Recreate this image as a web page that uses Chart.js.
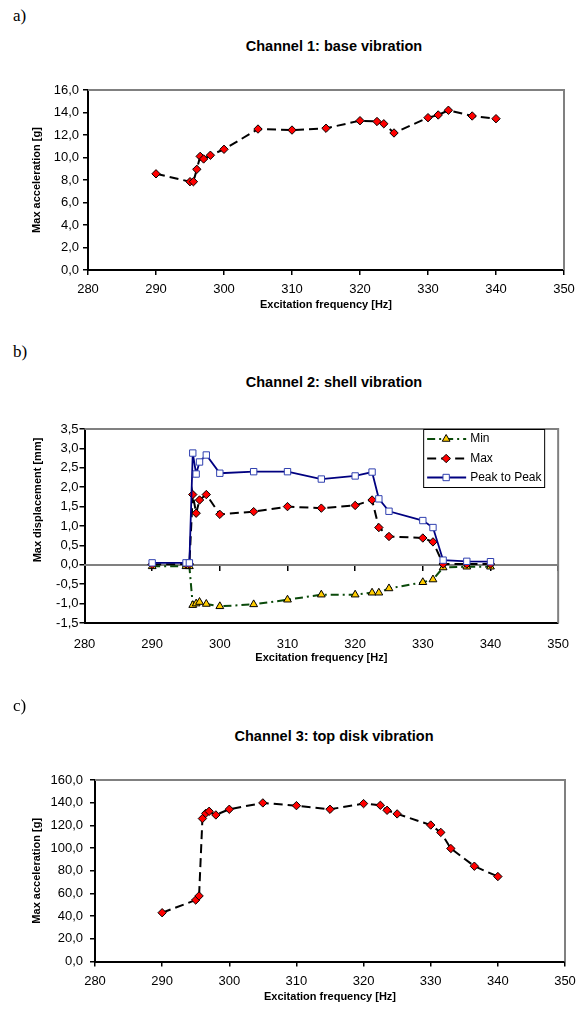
<!DOCTYPE html>
<html><head><meta charset="utf-8">
<script src="https://cdn.jsdelivr.net/npm/chart.js@4.4.1/dist/chart.umd.min.js"></script>
<style>
html,body{margin:0;padding:0;background:#fff;}
body{width:583px;height:1012px;position:relative;overflow:hidden;font-family:"Liberation Sans",Arial,sans-serif;}
.lbl{position:absolute;left:13px;font-family:"Liberation Serif","Times New Roman",serif;font-size:17px;line-height:20px;}
.ttl{position:absolute;left:184px;width:300px;text-align:center;font-weight:bold;font-size:14.5px;line-height:18px;white-space:nowrap;}
.ytl{position:absolute;width:200px;height:14px;line-height:14px;text-align:center;font-weight:bold;font-size:11px;white-space:nowrap;transform:rotate(-90deg);transform-origin:50% 50%;}
canvas{position:absolute;left:0;}
</style></head><body>
<div class="lbl" style="top:6px">a)</div>
<div class="ttl" style="top:37px">Channel 1: base vibration</div>
<canvas id="ca" width="583" height="255" style="top:60px"></canvas>
<div class="lbl" style="top:342px">b)</div>
<div class="ttl" style="top:373px">Channel 2: shell vibration</div>
<canvas id="cb" width="583" height="268" style="top:400px"></canvas>
<div class="ytl" id="ytb" style="left:-63px;top:493px"></div>
<div class="lbl" style="top:696px">c)</div>
<div class="ttl" style="top:727px">Channel 3: top disk vibration</div>
<canvas id="cc" width="583" height="257" style="top:750px"></canvas>
<script>
// ---- data ----
const freq = [290, 295, 295.5, 296, 296.5, 297, 298, 300, 305, 310, 315, 320, 322.5, 323.5, 325, 330, 331.5, 333, 336.5, 340];
const baseAcc = [8.55, 7.85, 7.85, 8.95, 10.1, 9.87, 10.2, 10.73, 12.53, 12.44, 12.6, 13.27, 13.2, 13.0, 12.18, 13.54, 13.78, 14.2, 13.69, 13.45];
const shellMin = [-0.04, -0.04, -0.04, -1.04, -1.0, -0.96, -1.01, -1.07, -1.02, -0.90, -0.77, -0.77, -0.72, -0.72, -0.61, -0.45, -0.38, -0.07, -0.05, -0.05];
const shellMax = [0.01, 0.02, 0.02, 1.81, 1.33, 1.67, 1.81, 1.30, 1.37, 1.50, 1.46, 1.53, 1.67, 0.96, 0.73, 0.69, 0.59, 0.02, 0.02, 0.02];
const shellPtP = [0.05, 0.05, 0.05, 2.88, 2.34, 2.65, 2.83, 2.36, 2.40, 2.40, 2.21, 2.29, 2.39, 1.70, 1.38, 1.14, 0.96, 0.12, 0.09, 0.08];
const topAcc = [43, 54.2, 57.8, 126, 130.6, 132.4, 129.2, 134.2, 139.8, 137.4, 134.2, 139.2, 137.7, 133.3, 130.1, 120.3, 113.8, 99.6, 84, 74.9];
const xTickValues = [280, 290, 300, 310, 320, 330, 340, 350];
const xTickLabels = ['280', '290', '300', '310', '320', '330', '340', '350'];
const yTicksA = [0, 2, 4, 6, 8, 10, 12, 14, 16];
const yLabelsA = ['0,0', '2,0', '4,0', '6,0', '8,0', '10,0', '12,0', '14,0', '16,0'];
const yTicksB = [-1.5, -1, -0.5, 0, 0.5, 1, 1.5, 2, 2.5, 3, 3.5];
const yLabelsB = ['-1,5', '-1,0', '-0,5', '0,0', '0,5', '1,0', '1,5', '2,0', '2,5', '3,0', '3,5'];
const yTicksC = [0, 20, 40, 60, 80, 100, 120, 140, 160];
const yLabelsC = ['0,0', '20,0', '40,0', '60,0', '80,0', '100,0', '120,0', '140,0', '160,0'];
const seriesNames = ['Min', 'Max', 'Peak to Peak'];
const xTitle = 'Excitation frequency [Hz]';
const yTitleB = 'Max displacement [mm]';

document.getElementById('ytb').textContent = yTitleB;

Chart.defaults.color = '#000';
Chart.defaults.font.family = '"Liberation Sans", Arial, sans-serif';

const pts = (ys) => freq.map((f, i) => ({x: f, y: ys[i]}));
const FONT_T = {size: 13};
const FONT_AX = {size: 11, weight: 'bold'};

const frame = {
  id: 'frame',
  beforeDatasetsDraw(chart) {
    const {ctx, chartArea: a} = chart;
    ctx.save();
    ctx.strokeStyle = '#808080'; ctx.lineWidth = 2;
    ctx.beginPath(); ctx.moveTo(a.left, a.top); ctx.lineTo(a.right, a.top); ctx.lineTo(a.right, a.bottom); ctx.stroke();
    ctx.restore();
  }
};

const legendBox = {
  id: 'legendBox',
  afterDraw(chart) {
    const {ctx, chartArea: a} = chart;
    const x0 = a.right - 135, x1 = a.right - 14, y0 = a.top, y1 = a.top + 58;
    ctx.save();
    ctx.fillStyle = '#fff'; ctx.fillRect(x0, y0, x1 - x0, y1 - y0);
    ctx.strokeStyle = '#000'; ctx.lineWidth = 1; ctx.strokeRect(x0 + 0.5, y0 + 0.5, x1 - x0, y1 - y0);
    const ys = [10, 29.5, 48.5];
    [2, 1, 0].forEach((idx, i) => {
      const ds = chart.data.datasets[idx];
      const y = y0 + ys[i];
      ctx.strokeStyle = ds.borderColor; ctx.lineWidth = ds.borderWidth; ctx.setLineDash(ds.borderDash || []);
      ctx.beginPath(); ctx.moveTo(x0 + 4, y); ctx.lineTo(x0 + 43, y); ctx.stroke();
      ctx.setLineDash([]);
      ctx.fillStyle = ds.pointBackgroundColor; ctx.strokeStyle = ds.pointBorderColor; ctx.lineWidth = 1;
      Chart.helpers.drawPoint(ctx, {pointStyle: ds.pointStyle, radius: ds.pointRadius, borderWidth: 1, rotation: 0}, x0 + 23, y);
      ctx.fillStyle = '#000'; ctx.font = '12px "Liberation Sans", Arial'; ctx.textBaseline = 'middle'; ctx.textAlign = 'left';
      ctx.fillText(ds.label, x0 + 47, y);
    });
    ctx.restore();
  }
};

function xScale(tickPad, withMarks) {
  return {
    type: 'linear', position: 'bottom', min: 280, max: 350,
    afterBuildTicks: s => { s.ticks = xTickValues.map(v => ({value: v})); },
    ticks: {font: FONT_T, padding: tickPad, autoSkip: false, maxRotation: 0,
      callback: v => xTickLabels[xTickValues.indexOf(v)]},
    grid: {display: withMarks, drawOnChartArea: false, drawTicks: withMarks, tickLength: 5, color: '#000', lineWidth: 1.5},
    border: {display: true, color: '#000', width: 2},
    title: {display: true, text: xTitle, font: FONT_AX, padding: {top: 0, bottom: 3}}
  };
}
function yScale(vals, labels, title, L, pad) {
  return {
    type: 'linear', min: vals[0], max: vals[vals.length - 1],
    afterBuildTicks: s => { s.ticks = vals.map(v => ({value: v})); },
    afterFit: s => { s.width = L; },
    ticks: {font: FONT_T, padding: pad, autoSkip: false, callback: v => labels[vals.indexOf(v)]},
    grid: {display: true, drawOnChartArea: false, drawTicks: true, tickLength: 5, color: '#000', lineWidth: 1.5},
    border: {display: true, color: '#000', width: 2},
    title: {display: !!title, text: title || '', font: FONT_AX, padding: {top: 30.5, bottom: 0}}
  };
}

function makeChart(id, cfg) {
  const c = document.getElementById(id);
  const H = c.height, top = cfg.canvasTop;
  const xs = cfg.x;
  xs.afterFit = s => { s.height = H - (cfg.B - top); };
  const scales = {x: xs, y: cfg.y};
  if (cfg.extraScales) Object.assign(scales, cfg.extraScales);
  return new Chart(c, {
    type: 'line',
    data: {datasets: cfg.datasets},
    options: {
      responsive: false, animation: false, devicePixelRatio: 1,
      layout: {padding: {top: cfg.T - top, right: 583 - cfg.R, left: 0, bottom: 0}},
      plugins: {legend: {display: false}, tooltip: {enabled: false}, title: {display: false}},
      scales
    },
    plugins: [frame].concat(cfg.plugins || [])
  });
}

const diamond = {pointStyle: 'rectRot', pointRadius: 4.2, pointBackgroundColor: '#FF0000', pointBorderColor: '#000', pointBorderWidth: 1};

makeChart('ca', {
  canvasTop: 60, T: 90, B: 270, R: 564,
  x: xScale(7, true),
  y: yScale(yTicksA, yLabelsA, 'Max acceleration [g]', 88, 4),
  datasets: [Object.assign({label: 'Channel 1', data: pts(baseAcc), borderColor: '#000', borderWidth: 2, borderDash: [9, 5], tension: 0, fill: false}, diamond)]
});

makeChart('cb', {
  canvasTop: 400, T: 429, B: 623, R: 564,
  x: xScale(14, false),
  y: yScale(yTicksB, yLabelsB, null, 84.5, 1),
  extraScales: {
    x2: {
      type: 'linear', position: {y: 0}, min: 280, max: 350,
      afterBuildTicks: s => { s.ticks = xTickValues.map(v => ({value: v})); },
      ticks: {display: false},
      grid: {display: true, drawOnChartArea: false, drawTicks: true, tickLength: 5, color: '#000', lineWidth: 1.5},
      border: {display: true, color: '#808080', width: 2}
    }
  },
  datasets: [
    {label: seriesNames[2], data: pts(shellPtP), order: 0, borderColor: '#000080', borderWidth: 1.8, tension: 0, fill: false,
     pointStyle: 'rect', pointRadius: 4.5, pointBackgroundColor: '#fff', pointBorderColor: '#3040B0', pointBorderWidth: 1},
    Object.assign({label: seriesNames[1], data: pts(shellMax), order: 1, borderColor: '#000', borderWidth: 2, borderDash: [9, 5], tension: 0, fill: false}, diamond),
    {label: seriesNames[0], data: pts(shellMin), order: 2, borderColor: '#0A4A0A', borderWidth: 2, borderDash: [8, 4, 2, 4], tension: 0, fill: false,
     pointStyle: 'triangle', pointRadius: 4.5, pointBackgroundColor: '#FFCC00', pointBorderColor: '#000', pointBorderWidth: 1}
  ],
  plugins: [legendBox]
});

makeChart('cc', {
  canvasTop: 750, T: 780, B: 961.5, R: 565,
  x: xScale(7, true),
  y: yScale(yTicksC, yLabelsC, 'Max acceleration [g]', 95, 7),
  datasets: [Object.assign({label: 'Channel 3', data: pts(topAcc), borderColor: '#000', borderWidth: 2, borderDash: [9, 5], tension: 0, fill: false}, diamond)]
});
</script>
</body></html>
